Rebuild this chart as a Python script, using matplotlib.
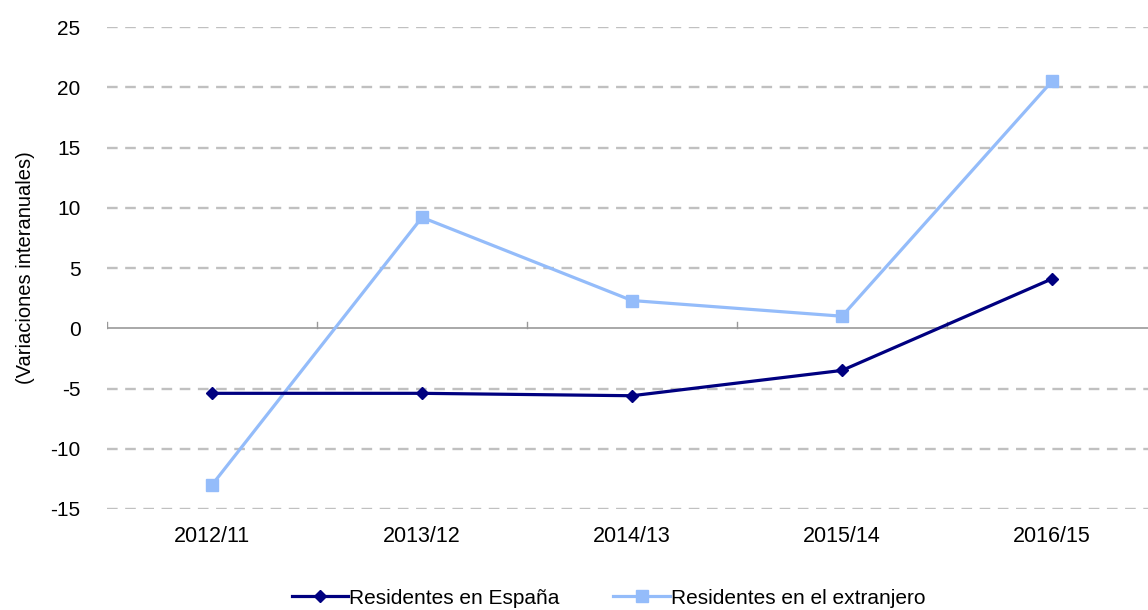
import matplotlib.pyplot as plt
import numpy as np

plt.rcParams['font.family'] = ['Liberation Sans', 'DejaVu Sans']

categorias = ["2012/11", "2013/12", "2014/13", "2015/14", "2016/15"]
residentes_espana = [-5.4, -5.4, -5.6, -3.5, 4.1]
residentes_extranjero = [-13.0, 9.2, 2.3, 1.0, 20.5]

fig = plt.figure(figsize=(11.48, 6.10), dpi=100)
ax = fig.add_axes([107 / 1148, 101 / 610, 1050 / 1148, 482 / 610])

x = np.arange(len(categorias))
ax.plot(x, residentes_espana, color="#000080", linewidth=2.3, marker="D",
        markersize=6.5, label="Residentes en España", zorder=4)
ax.plot(x, residentes_extranjero, color="#94bcfa", linewidth=2.3, marker="s",
        markersize=8, label="Residentes en el extranjero", zorder=3)

ax.set_xlim(-0.5, len(categorias) - 0.5)
ax.set_ylim(-15, 25)
ax.set_yticks(range(-15, 26, 5))
ax.set_yticklabels([str(v) for v in range(-15, 26, 5)], fontsize=15)

for v in range(-15, 26, 5):
    if v != 0:
        ax.axhline(v, color="#c0c0c0", linewidth=1.7, linestyle=(0, (4.5, 3.2)), zorder=1)
ax.axhline(0, color="#999999", linewidth=1.2, zorder=2)
# ticks between categories on the zero line
for b in np.arange(-0.5, len(categorias), 1.0):
    ax.plot([b, b], [0, 0.5], color="#999999", linewidth=1.0, zorder=2)

ax.set_xticks(x)
ax.set_xticklabels(categorias, fontsize=15.5)
ax.tick_params(axis="both", length=0)
ax.tick_params(axis="x", pad=12)
ax.tick_params(axis="y", pad=19)
for s in ax.spines.values():
    s.set_visible(False)

ax.set_ylabel("(Variaciones interanuales)", fontsize=14.5)
ax.yaxis.set_label_coords(-0.069, 0.50)

fig.legend(loc="lower center", bbox_to_anchor=(0.530, -0.027), ncol=2, frameon=False,
           fontsize=15, handlelength=2.7, columnspacing=2.6, handletextpad=0.05)

fig.savefig("out.png", dpi=100)
